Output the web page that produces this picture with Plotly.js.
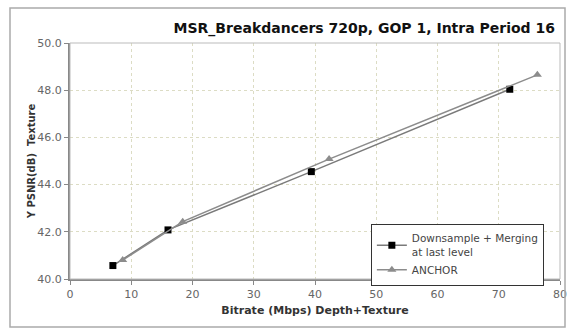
<!DOCTYPE html>
<html><head><meta charset="utf-8">
<script src="https://cdn.plot.ly/plotly-3.0.1.min.js"></script>
<style>html,body{margin:0;padding:0;background:#fff;}#chart{width:567px;height:330px;}</style>
</head><body><div id="chart"></div>
<script>
const dsBitrate = [7.0, 16.0, 39.4, 71.8];
const dsPsnr = [40.57, 42.08, 44.55, 48.04];
const anBitrate = [8.6, 18.4, 42.3, 76.3];
const anPsnr = [40.8, 42.43, 45.08, 48.65];
const xTicks = [0, 10, 20, 30, 40, 50, 60, 70, 80];
const yTicks = [40, 42, 44, 46, 48, 50];

const traces = [
  {x: dsBitrate, y: dsPsnr, mode: 'lines+markers', name: 'Downsample + Merging<br>at last level',
   line: {color: '#7a7a7a', width: 1.5}, marker: {symbol: 'square', size: 7, color: '#000'}},
  {x: anBitrate, y: anPsnr, mode: 'lines+markers', name: 'ANCHOR',
   line: {color: '#8c8c8c', width: 1.5}, marker: {symbol: 'triangle-up', size: 8, color: '#8c8c8c'}}
];
const layout = {
  width: 567, height: 330,
  margin: {l: 70, r: 7, t: 43, b: 51},
  paper_bgcolor: '#fff', plot_bgcolor: '#fff',
  font: {family: 'DejaVu Sans, sans-serif', color: '#555'},
  title: {text: '<b>MSR_Breakdancers 720p, GOP 1, Intra Period 16</b>', x: 555/567, xanchor: 'right', xref: 'container',
          y: 1 - 28/330, yanchor: 'middle', yref: 'container', font: {size: 14, color: '#111'}},
  xaxis: {range: [0, 80], tickvals: xTicks, ticktext: xTicks.map(String), showline: true, linecolor: '#888', linewidth: 2,
          ticks: 'outside', ticklen: 4, tickcolor: '#888', tickfont: {size: 11, color: '#666'},
          showgrid: true, gridcolor: '#dcdcc4', griddash: 'dot', gridwidth: 1, zeroline: false, mirror: false,
          title: {text: '<b>Bitrate (Mbps) Depth+Texture</b>', font: {size: 11, color: '#333'}, standoff: 6}},
  yaxis: {range: [40, 50], tickvals: yTicks, ticktext: yTicks.map(v => v.toFixed(1)), showline: true, linecolor: '#888', linewidth: 2,
          ticks: 'outside', ticklen: 4, tickcolor: '#888', tickfont: {size: 11, color: '#666'},
          showgrid: true, gridcolor: '#dcdcc4', griddash: 'dot', gridwidth: 1, zeroline: false,
          title: {text: '<b>Y PSNR(dB)  Texture</b>', font: {size: 10, color: '#333'}, standoff: 0}},
  legend: {x: 0.614, y: 0.233, xanchor: 'left', yanchor: 'top', bordercolor: '#333', borderwidth: 1,
           bgcolor: '#fff', font: {size: 10.5, color: '#444'}, tracegroupgap: 0, itemwidth: 30},
  shapes: [
    {type: 'rect', xref: 'paper', yref: 'paper', x0: 0, x1: 1, y0: 0, y1: 1, line: {color: '#bbb', width: 1}},
    {type: 'rect', xref: 'paper', yref: 'paper', x0: (10-70)/490, x1: (565-70)/490, y0: (279-327)/236, y1: (279-8)/236,
     line: {color: '#aaa', width: 1.5}}
  ],
  showlegend: true
};
Plotly.newPlot('chart', traces, layout, {staticPlot: true, displayModeBar: false});
</script></body></html>
